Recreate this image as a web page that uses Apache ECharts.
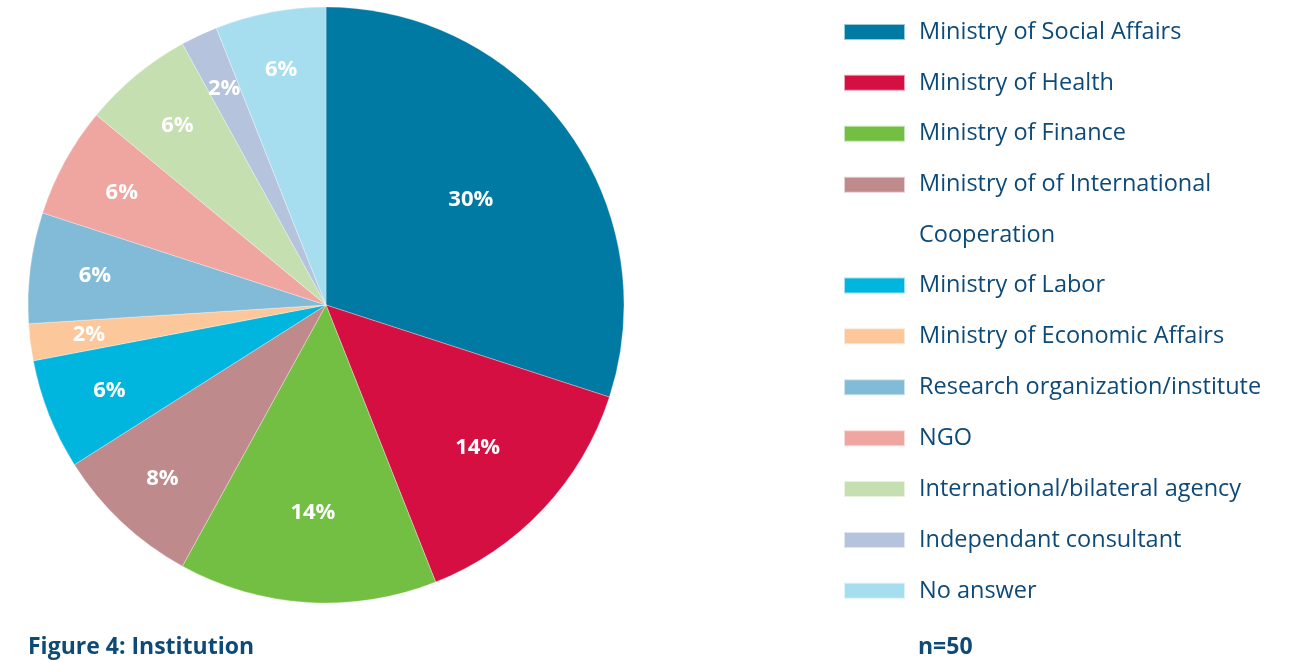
<!DOCTYPE html>
<html>
<head>
<meta charset="utf-8">
<script src="https://cdn.jsdelivr.net/npm/echarts@6/dist/echarts.min.js"></script>
<style>
  html, body { margin: 0; padding: 0; background: #fff; }
  #main { width: 1293px; height: 660px; }
</style>
</head>
<body>
<div id="main"></div>
<script>
// data (n=50, counts)
var categories = [
    'Ministry of Social Affairs',
    'Ministry of Health',
    'Ministry of Finance',
    'Ministry of of International',
    'Ministry of Labor',
    'Ministry of Economic Affairs',
    'Research organization/institute',
    'NGO',
    'International/bilateral agency',
    'Independant consultant',
    'No answer'
];
var counts = [15, 7, 7, 4, 3, 1, 3, 3, 3, 1, 3];
var colors = ['#007aa2', '#d60f42', '#72bf44', '#bf8a8c', '#00b6df', '#fcc89b',
              '#82bbd7', '#efa5a0', '#c5dfb0', '#b5c3dc', '#a6def0'];
// which label ring each slice's percentage sits on (the original places them by hand)
var labelRing = [0, 1, 1, 3, 2, 3, 2, 2, 2, 3, 3];
var ringRadius = [[136, 216], [165, 245], [195, 265], [196, 276]];

var textBlue = '#0d4a78';
var font = '"Open Sans", "Noto Sans", sans-serif';

var pieData = categories.map(function (name, i) {
    return { name: name, value: counts[i], itemStyle: { color: colors[i] } };
});

var labelStyle = {
    position: 'inside',
    color: '#fff',
    fontFamily: font,
    fontWeight: 'bold',
    fontSize: 22,
    formatter: function (p) { return Math.round(p.percent) + '%'; }
};

// one transparent pie per label ring, showing only its own labels
var labelSeries = ringRadius.map(function (r, k) {
    return {
        type: 'pie',
        center: [326, 305],
        radius: r,
        startAngle: 90,
        silent: true,
        itemStyle: { color: 'rgba(0,0,0,0)' },
        label: labelStyle,
        labelLine: { show: false },
        emphasis: { disabled: true },
        data: categories.map(function (name, i) {
            return { name: name, value: counts[i], label: { show: labelRing[i] === k } };
        })
    };
});

var legendText = { color: textBlue, fontFamily: font, fontSize: 23.5, lineHeight: 50.9, padding: [0, 0, 0, 9] };

var myChart = echarts.init(document.getElementById('main'));
myChart.setOption({
    animation: false,
    legend: [{
        orient: 'vertical',
        left: 843,
        top: 6.5,
        padding: 0,
        itemGap: 0,
        itemWidth: 61,
        itemHeight: 16,
        icon: 'rect',
        selectedMode: false,
        data: categories.slice(0, 4),
        textStyle: legendText
    }, {
        orient: 'vertical',
        left: 843,
        top: 260,
        padding: 0,
        itemGap: 0,
        itemWidth: 61,
        itemHeight: 16,
        icon: 'rect',
        selectedMode: false,
        data: categories.slice(4),
        textStyle: legendText
    }],
    graphic: [{
        type: 'text', left: 919, top: 223,
        style: { text: 'Cooperation', fill: textBlue, font: '23.5px ' + font }
    }, {
        type: 'text', left: 28, top: 636,
        style: { text: 'Figure 4: Institution', fill: textBlue, font: 'bold 23px ' + font }
    }, {
        type: 'text', left: 918, top: 636,
        style: { text: 'n=50', fill: textBlue, font: 'bold 23px ' + font }
    }],
    series: [{
        type: 'pie',
        center: [326, 305],
        radius: [0, 298],
        startAngle: 90,
        clockwise: true,
        label: { show: false },
        labelLine: { show: false },
        itemStyle: { borderColor: 'rgba(255,255,255,0.6)', borderWidth: 0.5 },
        emphasis: { disabled: true },
        data: pieData
    }].concat(labelSeries)
});
</script>
</body>
</html>
